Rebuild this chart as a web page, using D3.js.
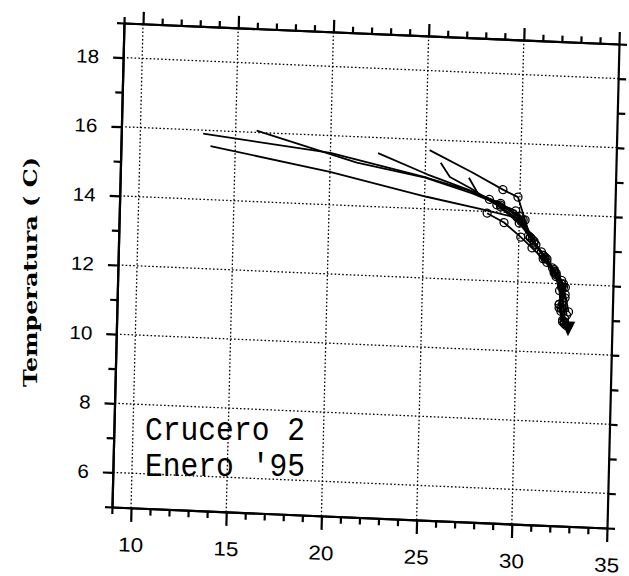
<!DOCTYPE html>
<html>
<head>
<meta charset="utf-8">
<script src="https://cdn.jsdelivr.net/npm/d3@7"></script>
<style>
  html, body { margin: 0; padding: 0; background: #fff; }
  svg { display: block; }
</style>
</head>
<body>
<script>
// ---- data (Salinity vs Temperature, T-S profiles, Crucero 2) ----
const xDomain = [9, 35];
const yDomain = [5, 19];
const xMajorTicks = [10, 15, 20, 25, 30, 35];
const yMajorTicks = [6, 8, 10, 12, 14, 16, 18];
const xGrid = [10, 15, 20, 25, 30];
const yGrid = [6, 8, 10, 12, 14, 16, 18];
const yTitle = "Temperatura ( C)";
const noteLines = ["Crucero 2", "Enero '95"];

const cast1 = [[13.3,15.9],[20.0,15.5],[25.1,14.9],[27.2,14.6],[28.4,14.35],[29.8,14.05],[30.5,13.35],[31.3,12.8],[31.9,12.4],[32.3,12.0],[32.4,11.5],[32.5,11.0]];
const cast2 = [[13.7,15.55],[20.0,14.95],[25.1,14.35],[28.1,14.05],[29.9,13.85],[30.7,13.25],[31.4,12.75],[32.0,12.3],[32.4,11.9],[32.2,11.3],[32.4,10.9]];
const cast3 = [[16.1,16.05],[21.4,15.25],[25.0,14.9],[27.5,14.5],[29.0,14.2],[30.2,13.8],[30.9,13.1],[31.5,12.6],[32.0,12.2],[32.5,11.6],[32.6,11.1]];
const cast4 = [[22.5,15.55],[25.1,15.0],[27.3,14.6],[29.0,14.25],[30.0,13.9],[30.8,13.2],[31.4,12.7],[31.9,12.35],[32.2,11.8],[32.3,11.2],[32.6,10.8]];
const cast5 = [[25.2,15.7],[27.5,15.1],[29.1,14.65],[29.9,14.45],[30.3,13.8],[30.6,13.3],[31.2,12.9],[31.8,12.45],[32.3,12.1],[32.5,11.7],[32.7,11.2]];
const cast6 = [[25.8,15.35],[26.3,14.95],[27.4,14.65],[28.8,14.2],[30.0,13.7],[30.6,13.3],[31.3,12.8],[31.9,12.35],[32.4,12.0],[32.2,11.4],[32.4,10.95]];
const cast7 = [[27.3,14.95],[27.8,14.5],[29.0,14.15],[30.1,13.75],[30.8,13.15],[31.5,12.7],[32.0,12.25],[32.5,11.9],[32.3,11.3],[32.5,10.85]];
const cast8 = [[28.3,13.95],[29.2,13.7],[30.1,13.3],[30.7,13.0],[31.3,12.7],[31.9,12.3],[32.3,11.9],[32.2,11.4],[32.5,10.9]];
const casts = [cast1, cast2, cast3, cast4, cast5, cast6, cast7, cast8];
const endMarker = [32.7, 10.75];

// ---- layout ----
const W = 629, H = 576;
const pw = 495, ph = 484;
const svg = d3.select("body").append("svg").attr("width", W).attr("height", H);
svg.append("rect").attr("width", W).attr("height", H).attr("fill", "#fff");

// the scanned figure is slightly skewed
const g = svg.append("g").attr("transform", "matrix(1,0.0424,-0.0248,1,124,23)");

const x = d3.scaleLinear().domain(xDomain).range([0, pw]);
const y = d3.scaleLinear().domain(yDomain).range([ph, 0]);

// grid
g.append("g").selectAll("line").data(xGrid).join("line")
  .attr("x1", d => x(d)).attr("x2", d => x(d)).attr("y1", 0).attr("y2", ph)
  .attr("stroke", "#000").attr("stroke-width", 1.3).attr("stroke-dasharray", "1.6,2.2");
g.append("g").selectAll("line").data(yGrid).join("line")
  .attr("y1", d => y(d)).attr("y2", d => y(d)).attr("x1", 0).attr("x2", pw)
  .attr("stroke", "#000").attr("stroke-width", 1.3).attr("stroke-dasharray", "1.6,2.2");

const allX = d3.range(xDomain[0], xDomain[1] + 1);
const allY = d3.range(yDomain[0], yDomain[1] + 1);
const xMinor = allX.filter(v => !xMajorTicks.includes(v));
const yMinor = allY.filter(v => !yMajorTicks.includes(v));

function styleAxis(sel) {
  sel.selectAll("path").attr("stroke", "#000").attr("stroke-width", 2.2);
  sel.selectAll("line").attr("stroke", "#000").attr("stroke-width", 2.2);
}

// bottom
const bMaj = g.append("g").attr("transform", `translate(0,${ph})`)
  .call(d3.axisBottom(x).tickValues(xMajorTicks).tickSize(14).tickSizeOuter(0).tickFormat(d3.format("d")));
styleAxis(bMaj);
bMaj.selectAll("text").attr("y", 44).attr("dy", null)
  .attr("font-family", "Liberation Sans, Arial, sans-serif").attr("font-size", 20)
  .attr("fill", "#000").attr("textLength", 25).attr("lengthAdjust", "spacingAndGlyphs");
const bMin = g.append("g").attr("transform", `translate(0,${ph})`)
  .call(d3.axisBottom(x).tickValues(xMinor).tickSize(7).tickSizeOuter(0).tickFormat(""));
styleAxis(bMin);

// top
const tMaj = g.append("g")
  .call(d3.axisTop(x).tickValues(xMajorTicks).tickSize(12).tickSizeOuter(0).tickFormat(""));
styleAxis(tMaj);
const tMin = g.append("g")
  .call(d3.axisTop(x).tickValues(xMinor).tickSize(6).tickSizeOuter(0).tickFormat(""));
styleAxis(tMin);

// left
const lMaj = g.append("g")
  .call(d3.axisLeft(y).tickValues(yMajorTicks).tickSize(10).tickSizeOuter(0).tickFormat(d3.format("d")));
styleAxis(lMaj);
lMaj.selectAll("text").attr("x", -24)
  .attr("font-family", "Liberation Sans, Arial, sans-serif").attr("font-size", 19)
  .attr("fill", "#000")
  .attr("textLength", d => String(d).length * 11.5).attr("lengthAdjust", "spacingAndGlyphs");
const lMin = g.append("g")
  .call(d3.axisLeft(y).tickValues(yMinor).tickSize(7).tickSizeOuter(0).tickFormat(""));
styleAxis(lMin);

// right
const rAx = g.append("g").attr("transform", `translate(${pw},0)`)
  .call(d3.axisRight(y).tickValues(allY).tickSize(8).tickSizeOuter(0).tickFormat(""));
styleAxis(rAx);

// data lines
const line = d3.line().x(d => x(d[0])).y(d => y(d[1]));
g.append("g").selectAll("path").data(casts).join("path")
  .attr("d", line).attr("fill", "none").attr("stroke", "#000").attr("stroke-width", 1.8)
  .attr("stroke-linejoin", "round");

// markers (deep samples)
const pts = casts.flatMap(c => c.filter(p => p[0] >= 28.3));
g.append("g").selectAll("circle").data(pts).join("circle")
  .attr("cx", d => x(d[0])).attr("cy", d => y(d[1])).attr("r", 4)
  .attr("fill", "none").attr("stroke", "#000").attr("stroke-width", 1.3);

g.append("path")
  .attr("transform", `translate(${x(endMarker[0])},${y(endMarker[1])})`)
  .attr("d", "M-7,-6 L7,-6 L0,9 Z").attr("fill", "#000");

// y title
svg.append("text")
  .attr("transform", "translate(37,272) rotate(-90)")
  .attr("text-anchor", "middle")
  .attr("font-family", "DejaVu Serif, serif")
  .attr("font-weight", "bold").attr("font-size", 18)
  .attr("textLength", 230).attr("lengthAdjust", "spacingAndGlyphs")
  .attr("fill", "#000").text(yTitle);

// annotation
const note = svg.append("g").attr("transform", "translate(145,0)");
note.selectAll("text").data(noteLines).join("text")
  .attr("transform", (d, i) => `translate(0,${440 + i * 36}) scale(1,1.18)`)
  .attr("font-family", "Liberation Mono, Courier New, monospace")
  .attr("font-size", 28).attr("textLength", 160).attr("lengthAdjust", "spacingAndGlyphs")
  .attr("fill", "#000").text(d => d);
</script>
</body>
</html>
